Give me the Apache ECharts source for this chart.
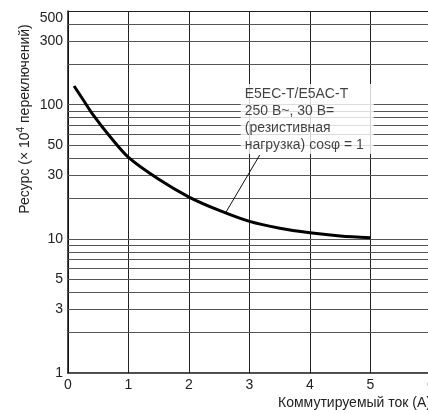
<!DOCTYPE html>
<html>
<head>
<meta charset="utf-8">
<script src="https://cdn.jsdelivr.net/npm/echarts@6/dist/echarts.min.js"></script>
<style>
html,body{margin:0;padding:0;background:#fff;}
#c{width:428px;height:410px;}
</style>
</head>
<body>
<div id="c"></div>
<script>
// Data
const currentA = [0.1, 0.25, 0.4, 0.7, 1, 1.5, 2, 2.5, 3, 3.5, 4, 4.5, 5];
const lifeValues = [138, 109, 86, 57.5, 40.5, 27.8, 20.5, 16.3, 13.5, 12.0, 11.1, 10.5, 10.2];
const yGridValues = [1,2,3,4,5,6,7,8,9,10,20,30,40,50,60,70,80,90,100,200,300,400,500];
const yLabelValues = [1,3,5,10,30,50,100,300,500];
const xTickValues = [0,1,2,3,4,5,6];
const annotationLines = ['E5EC-T/E5AC-T', '250 В~, 30 В=', '(резистивная', 'нагрузка) cosφ = 1'];
const annotationAnchor = [2.855, 142.6];
const arrowFrom = [3.169, 42.2];
const arrowTo = [2.607, 15.7];
const xName = 'Коммутируемый ток (А)';
const yNameParts = ['Ресурс (× 10', '4', ' переключений)'];

const FONT = '"Liberation Sans", Arial, sans-serif';
const chart = echarts.init(document.getElementById('c'), null, {renderer: 'canvas'});

const curveData = currentA.map((x, i) => [x, lifeValues[i]]);

const option = {
  animation: false,
  backgroundColor: '#fff',
  textStyle: {fontFamily: FONT},
  grid: {left: 68, top: 11, right: -3, bottom: 37, containLabel: false, outerBoundsMode: 'none'},
  xAxis: {
    type: 'value', min: 0, max: 6, interval: 1,
    axisLine: {show: true, lineStyle: {color: '#111', width: 1.5}},
    axisTick: {show: false},
    axisLabel: {show: true, color: '#222', fontSize: 14, fontFamily: FONT, margin: 5,
      hideOverlap: false, showMaxLabel: true, showMinLabel: true,
      formatter: v => xTickValues.includes(v) ? String(v) : ''},
    splitLine: {show: true, lineStyle: {color: '#222', width: 1}},
    name: xName, nameLocation: 'end', nameGap: 0,
    nameTextStyle: {align: 'right', verticalAlign: 'top', padding: [23, 0, 0, 0], color: '#222', fontSize: 14, fontFamily: FONT}
  },
  yAxis: {
    type: 'log', logBase: 10, min: 1, max: 500,
    axisLine: {show: true, lineStyle: {color: '#111', width: 1.5}},
    axisTick: {show: false},
    axisLabel: {show: false},
    splitLine: {show: false}
  },
  graphic: [{
    type: 'text',
    x: 25, y: 119,
    rotation: Math.PI / 2,
    style: {
      text: '{a|' + yNameParts[0] + '}{s|' + yNameParts[1] + '}{a|' + yNameParts[2] + '}',
      align: 'center', verticalAlign: 'middle',
      rich: {
        a: {fontSize: 14, fontFamily: FONT, fill: '#222', color: '#222'},
        s: {fontSize: 10, fontFamily: FONT, fill: '#222', color: '#222', verticalAlign: 'top', padding: [0, 0, 7, 0]}
      }
    }
  }],
  series: [
    {
      type: 'line', z: 1, silent: true,
      data: [[0, 1]], symbol: 'none', lineStyle: {opacity: 0},
      markLine: {
        silent: true, symbol: ['none', 'none'], animation: false,
        data: yGridValues.map(v => ({
          yAxis: v,
          lineStyle: {color: (v === 500 ? '#222' : '#555'), width: 1, type: 'solid'},
          label: {show: yLabelValues.includes(v), position: 'start', distance: 5,
            verticalAlign: (v === 500 ? 'top' : 'middle'),
            formatter: String(v), color: '#222', fontSize: 14, fontFamily: FONT}
        }))
      }
    },
    {
      type: 'scatter', z: 5, silent: true,
      data: [annotationAnchor], symbolSize: 0,
      label: {
        show: true, position: [0, 0], align: 'left', verticalAlign: 'top',
        formatter: annotationLines.join('\n'),
        fontSize: 14, lineHeight: 17, fontFamily: FONT, color: '#111',
        backgroundColor: '#fff', padding: [2, 10, 0, 4]
      }
    },
    {
      type: 'line', z: 6, silent: true,
      data: curveData, smooth: 0.3, symbol: 'none',
      lineStyle: {color: '#000', width: 3},
      markLine: {
        silent: true, symbol: ['none', 'arrow'], symbolSize: [0, 9],
        label: {show: false},
        lineStyle: {color: '#111', width: 1, type: 'solid'},
        data: [[{coord: arrowFrom}, {coord: arrowTo}]]
      }
    }
  ]
};
chart.setOption(option);
</script>
</body>
</html>
